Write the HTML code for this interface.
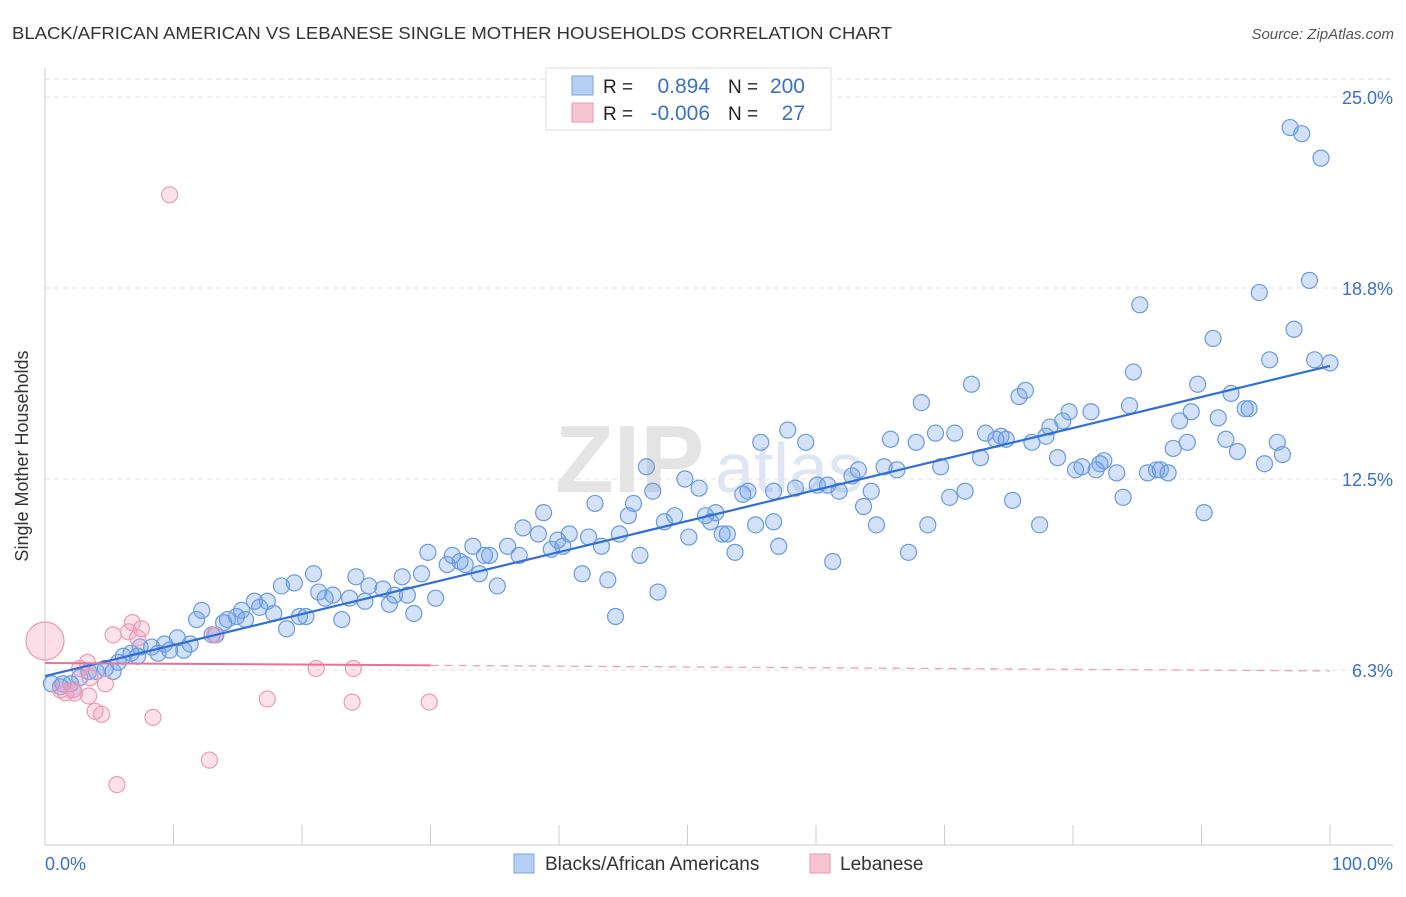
<!DOCTYPE html>
<html><head><meta charset="utf-8"><style>
body{margin:0;background:#fff;font-family:"Liberation Sans",sans-serif}
svg text{font-family:"Liberation Sans",sans-serif}
</style></head><body>
<svg width="1406" height="892" viewBox="0 0 1406 892" xmlns="http://www.w3.org/2000/svg">
<text x="12" y="39" font-size="17.5" fill="#333" textLength="880" lengthAdjust="spacingAndGlyphs">BLACK/AFRICAN AMERICAN VS LEBANESE SINGLE MOTHER HOUSEHOLDS CORRELATION CHART</text>
<text x="1394" y="39" font-size="15" fill="#555" font-style="italic" text-anchor="end">Source: ZipAtlas.com</text>
<text x="555" y="492" font-size="96" fill="#e4e4e4" font-family="Liberation Serif" font-weight="bold">ZIP</text>
<text x="715" y="492" font-size="70" fill="#dde6f2">atlas</text>
<g id="grid"></g>
<line x1="45" y1="68" x2="45" y2="845" stroke="#ccc"/>
<line x1="45" y1="845" x2="1393" y2="845" stroke="#ccc"/>
<g id="ticks"></g>
<text x="28" y="456" font-size="18" fill="#333" text-anchor="middle" transform="rotate(-90 28 456)">Single Mother Households</text>
<text x="45" y="870" font-size="18" fill="#3a70c8">0.0%</text>
<text x="1393" y="870" font-size="18" fill="#3a70c8" text-anchor="end">100.0%</text>
<g id="pts"></g>
<g id="lines"></g>
<g>
<rect x="546" y="68" width="285" height="62" fill="#fff" stroke="#ddd"/>
<rect x="572" y="76" width="21" height="19" fill="#b6cff5" stroke="#7aa3e0"/>
<rect x="572" y="103" width="21" height="19" fill="#f8c3d3" stroke="#eb97b2"/>
<text x="603" y="93" font-size="19" fill="#222">R =</text>
<text x="710" y="93" font-size="21" fill="#3a70c8" text-anchor="end">0.894</text>
<text x="728" y="93" font-size="19" fill="#222">N =</text>
<text x="805" y="93" font-size="21" fill="#3a70c8" text-anchor="end">200</text>
<text x="603" y="120" font-size="19" fill="#222">R =</text>
<text x="710" y="120" font-size="21" fill="#3a70c8" text-anchor="end">-0.006</text>
<text x="728" y="120" font-size="19" fill="#222">N =</text>
<text x="805" y="120" font-size="21" fill="#3a70c8" text-anchor="end">27</text>
</g>
<g>
<rect x="514" y="854" width="20" height="19" fill="#b6cff5" stroke="#7aa3e0"/>
<text x="545" y="870" font-size="19" fill="#333">Blacks/African Americans</text>
<rect x="810" y="854" width="20" height="19" fill="#f8c3d3" stroke="#eb97b2"/>
<text x="840" y="870" font-size="19" fill="#333">Lebanese</text>
</g>
</svg>
<script>
const yTicks=[6.25,12.5,18.75,25];
const yTickLabels=["6.3%","12.5%","18.8%","25.0%"];
const xTicks=[0,10,20,30,40,50,60,70,80,90,100];
const blueX=[96.9,97.8,99.3,98.4,94.5,85.2,97.2,90.9,95.3,98.8,100,84.7,72.1,89.7,76.3,75.8,92.3,68.2,84.4,93.4,93.7,79.7,81.4,89.2,79.2,88.3,91.3,73.2,70.8,69.3,78.2,77.9,74.4,74,74.8,65.8,67.8,76.8,88.9,91.9,95.9,57.8,59.2,55.7,87.8,92.8,72.8,78.8,96.3,94.9,69.7,82.4,82.1,80.7,80.2,81.8,83.4,86.5,86.8,85.8,87.4,65.3,66.3,63.3,62.8,46.8,49.8,60.1,58.4,60.9,61.8,56.7,54.3,50.9,47.3,64.3,54.7,71.6,70.4,83.9,75.3,63.7,45.8,42.8,90.2,49,52.2,51.4,45.4,48.2,56.7,55.3,51.8,38.8,37.2,38.4,40.8,39.9,42.3,44.7,64.7,68.7,77.4,50.1,52.7,53.1,40.3,39.4,43.3,33.3,36,57.1,53.7,34.6,36.9,34.2,31.7,29.8,46.3,67.2,61.3,31.3,32.7,32.3,29.3,20.9,33.8,27.8,24.2,41.8,43.8,19.4,18.4,25.2,26.3,35.2,47.7,21.3,22.4,23.7,24.9,27.2,28.2,30.4,16.3,17.3,26.8,28.7,21.8,15.3,12.2,19.8,20.3,16.7,14.9,14.2,17.8,23.1,13.9,11.8,15.6,44.4,18.8,13,13.3,10.3,9.3,11.3,7.4,8.3,9.7,6.7,10.8,8.8,6.1,7.2,5.7,4.7,4.0,3.4,5.3,2.7,2.0,1.2,0.5,1.4,2.2];
const blueY=[24.0,23.8,23.0,19.0,18.6,18.2,17.4,17.1,16.4,16.4,16.3,16.0,15.6,15.6,15.4,15.2,15.3,15.0,14.9,14.8,14.8,14.7,14.7,14.7,14.4,14.4,14.5,14.0,14.0,14.0,14.2,13.9,13.9,13.8,13.8,13.8,13.7,13.7,13.7,13.8,13.7,14.1,13.7,13.7,13.5,13.4,13.2,13.2,13.3,13.0,12.9,13.1,13.0,12.9,12.8,12.8,12.7,12.8,12.8,12.7,12.7,12.9,12.8,12.8,12.6,12.9,12.5,12.3,12.2,12.3,12.1,12.1,12.0,12.2,12.1,12.1,12.1,12.1,11.9,11.9,11.8,11.6,11.7,11.7,11.4,11.3,11.4,11.3,11.3,11.1,11.1,11.0,11.1,11.4,10.9,10.7,10.7,10.5,10.6,10.7,11.0,11.0,11.0,10.6,10.7,10.7,10.3,10.2,10.3,10.3,10.3,10.3,10.1,10.0,10.0,10.0,10.0,10.1,10.0,10.1,9.8,9.7,9.7,9.8,9.4,9.4,9.4,9.3,9.3,9.4,9.2,9.1,9.0,9.0,8.9,9.0,8.8,8.8,8.7,8.6,8.5,8.7,8.7,8.6,8.5,8.5,8.4,8.1,8.6,8.2,8.2,8.0,8.0,8.3,8.0,7.9,8.1,7.9,7.8,7.9,7.9,8.0,7.6,7.4,7.4,7.3,7.1,7.1,7.0,7.0,6.9,6.8,6.9,6.8,6.7,6.7,6.5,6.3,6.2,6.2,6.2,6.0,5.8,5.7,5.8,5.8,5.6];
const pinkX=[9.7,6.8,7.5,5.3,6.5,7.2,13.2,3.3,2.7,3.5,4.7,2.2,1.2,1.6,2.3,3.4,3.9,4.4,8.4,21.1,24.0,17.3,23.9,29.9,12.8,5.6];
const pinkY=[21.8,7.8,7.6,7.4,7.5,7.3,7.4,6.5,6.3,6.0,5.8,5.6,5.6,5.5,5.5,5.4,4.9,4.8,4.7,6.3,6.3,5.3,5.2,5.2,3.3,2.5];
const blueTrend=[6.05,16.2];
const pinkTrend=[6.48,6.22];
const NS="http://www.w3.org/2000/svg";
const X=v=>45+v*12.85, Y=v=>861-v*30.56;
function mk(t,a,p){const e=document.createElementNS(NS,t);for(const k in a)e.setAttribute(k,a[k]);p.appendChild(e);return e;}
const grid=document.getElementById('grid'),ticks=document.getElementById('ticks'),pts=document.getElementById('pts'),lines=document.getElementById('lines');
let tg=mk('line',{x1:45,x2:1393,y1:79,y2:79,stroke:'#ddd','stroke-dasharray':'5,4'},grid);


yTicks.forEach((v,i)=>{
 const l=mk('line',{x1:45,x2:1393,y1:Y(v),y2:Y(v),stroke:'#e2e2e2','stroke-dasharray':'5,4'},grid);
 
 
 const t=mk('text',{x:1393,y:Y(v)+7,'font-size':18,fill:'#3a70c8','text-anchor':'end'},grid);
 t.textContent=yTickLabels[i];
 
 
});
xTicks.forEach(v=>{
 const l=mk('line',{x1:X(v),x2:X(v),y1:825,y2:845,stroke:'#ccc'},ticks);
 
 
});
blueX.forEach((x,i)=>{
 const c=mk('circle',{cx:X(x),cy:Y(blueY[i]),r:8,fill:'rgba(110,160,235,0.3)',stroke:'#6a9ae0','stroke-width':1.2},pts);
 
 
});
let big=mk('circle',{cx:X(0),cy:Y(7.2),r:19,fill:'rgba(245,160,190,0.35)',stroke:'#ec9ab5','stroke-width':1.2},pts);


pinkX.forEach((x,i)=>{
 const c=mk('circle',{cx:X(x),cy:Y(pinkY[i]),r:8,fill:'rgba(245,160,190,0.3)',stroke:'#ec9ab5','stroke-width':1.2},pts);
 
 
});
let bl=mk('line',{x1:X(0),y1:Y(blueTrend[0]),x2:X(100),y2:Y(blueTrend[1]),stroke:'#2f6fd6','stroke-width':2.2},lines);


const pm=pinkTrend[0]+(pinkTrend[1]-pinkTrend[0])*0.3;
let pl=mk('line',{x1:X(0),y1:Y(pinkTrend[0]),x2:X(30),y2:Y(pm),stroke:'#e8709a','stroke-width':2},lines);


let pd=mk('line',{x1:X(30),y1:Y(pm),x2:X(100),y2:Y(pinkTrend[1]),stroke:'#eea0bb','stroke-width':1.3,'stroke-dasharray':'8,6'},lines);


</script>
</body></html>
